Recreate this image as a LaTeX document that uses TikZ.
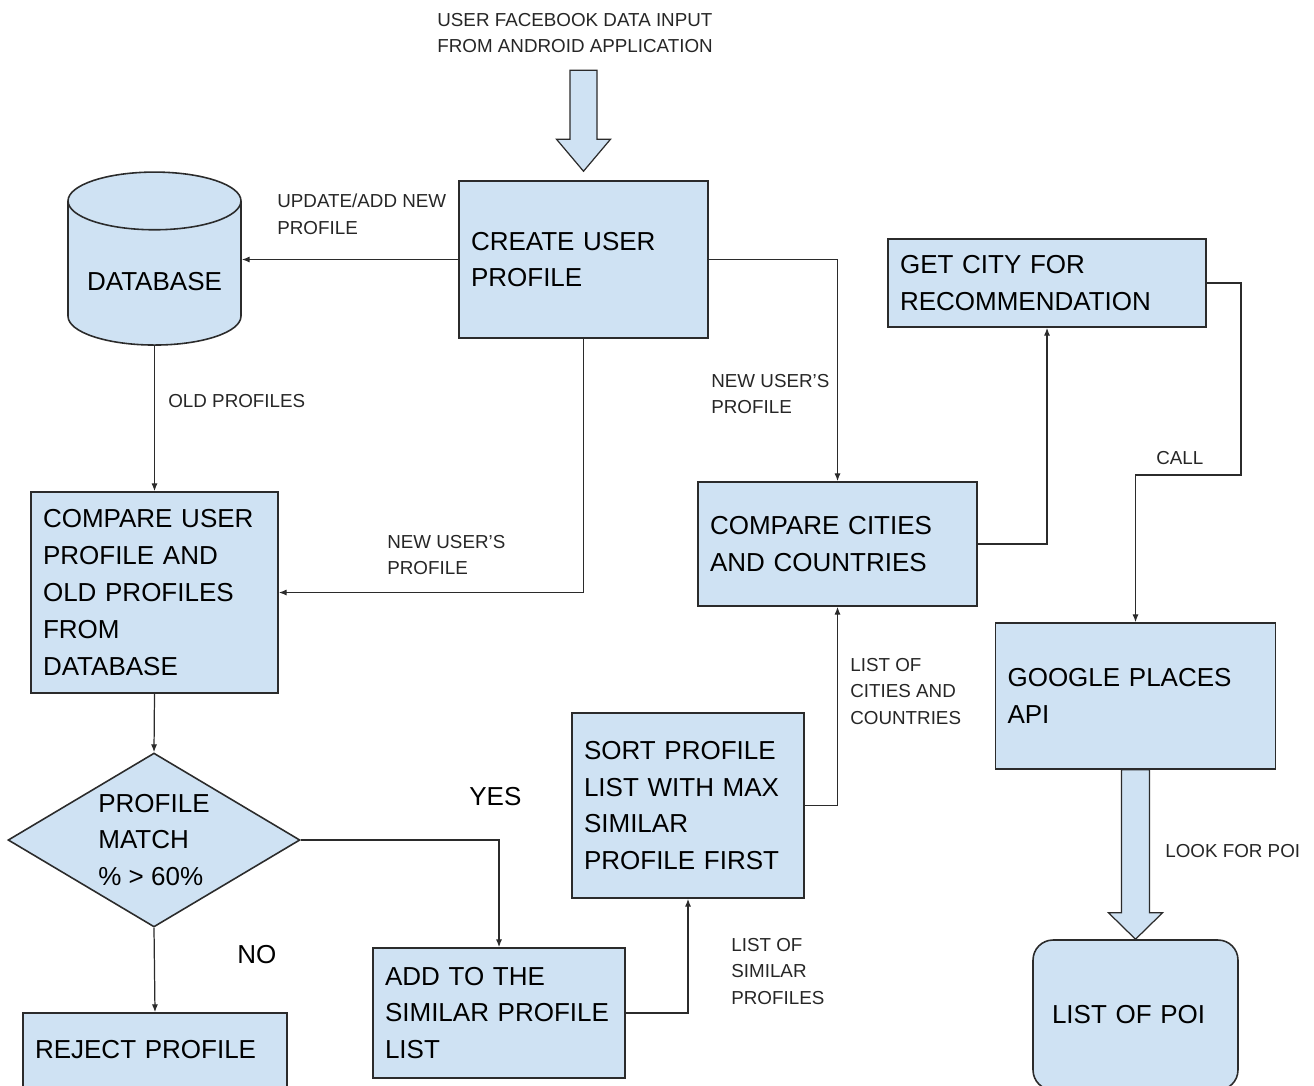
\documentclass[tikz,border=0pt]{standalone}
\usepackage{fontspec}
\setmainfont{Liberation Sans}
\usetikzlibrary{shapes.geometric,arrows.meta,calc}
\definecolor{boxblue}{HTML}{CFE2F3}
\definecolor{linegray}{HTML}{2B2B2B}

\begin{document}
\begin{tikzpicture}[x=0.02cm,y=-0.02cm,
    procbox/.style={rectangle, draw=linegray, line width=0.9pt, fill=boxblue, align=left,
      inner xsep=0.24cm, inner ysep=0pt, font=\fontsize{14.8}{21}\selectfont},
    dbstore/.style={cylinder, shape border rotate=90, aspect=0.35, draw=linegray, line width=0.9pt,
      fill=boxblue, minimum width=3.46cm, minimum height=3.46cm, inner xsep=0.3cm, inner ysep=0.3cm,
      font=\fontsize{14.8}{21}\selectfont},
    decision/.style={diamond, draw=linegray, line width=0.9pt, fill=boxblue, align=left, inner sep=0pt,
      aspect=1.68, minimum width=5.84cm, minimum height=3.48cm, font=\fontsize{14.8}{21}\selectfont},
    flow/.style={draw=linegray, line width=0.7pt, -{Latex[length=4.5pt,width=3.5pt]}},
    bigarrow/.style={draw=linegray, line width=0.7pt, fill=boxblue, line join=miter},
    lbl/.style={font=\fontsize{10.7}{15}\selectfont, align=left, inner sep=0pt, text=black!85},
    biglbl/.style={font=\fontsize{14.8}{21}\selectfont, inner sep=0pt, anchor=west}]
  \useasboundingbox (0,0) rectangle (1314,1085);
  \clip (0,0) rectangle (1314,1085);

  % boxes
  \node[procbox, text width=4.5cm, minimum height=3.14cm] (create) at (583.5,259.5) {CREATE USER\\PROFILE};
  \node[dbstore] (db) at (154.5,281.5) {DATABASE};
  \node[procbox, text width=4.46cm, minimum height=4.02cm] (cmpusr) at (154.5,592.5) {COMPARE USER\\PROFILE AND\\OLD PROFILES\\FROM\\DATABASE};
  \node[decision] (match) at (154,840) {PROFILE\\MATCH\\\% > 60\%};
  \node[procbox, text width=4.8cm, minimum height=1.48cm] (reject) at (155,1050) {REJECT PROFILE};
  \node[procbox, text width=4.56cm, minimum height=2.6cm] (add) at (499,1013) {ADD TO THE\\SIMILAR PROFILE\\LIST};
  \node[procbox, text width=4.16cm, minimum height=3.7cm] (sort) at (688,805.5) {SORT PROFILE\\LIST WITH MAX\\SIMILAR\\PROFILE FIRST};
  \node[procbox, text width=5.1cm, minimum height=2.48cm] (cities) at (837.5,544) {COMPARE CITIES\\AND COUNTRIES};
  \node[procbox, text width=5.88cm, minimum height=1.76cm] (getcity) at (1047,283) {GET CITY FOR\\RECOMMENDATION};
  \node[procbox, text width=5.12cm, minimum height=2.92cm] (gpa) at (1135.5,696) {GOOGLE PLACES\\API};
  \node[procbox, rounded corners=0.4cm, inner xsep=0.38cm, text width=3.34cm, minimum height=3cm] (poi) at (1135.5,1015) {LIST OF POI};

  % labels
  \node[lbl, anchor=north west] (title) at (437,13) {USER FACEBOOK DATA INPUT\\FROM ANDROID APPLICATION};
  \node[lbl, anchor=north west] (lupdate) at (277,194) {UPDATE/ADD NEW\\PROFILE};
  \node[lbl, anchor=west] (lold) at (168,401) {OLD PROFILES};
  \node[lbl, anchor=north west] (lnewa) at (387,535) {NEW USER'S\\PROFILE};
  \node[lbl, anchor=north west] (lnewb) at (711,374) {NEW USER'S\\PROFILE};
  \node[lbl, anchor=west] (lcall) at (1156,458) {CALL};
  \node[lbl, anchor=west] (llook) at (1165,851) {LOOK FOR POI};
  \node[lbl, anchor=north west] (lsimilar) at (731,938) {LIST OF\\SIMILAR\\PROFILES};
  \node[lbl, anchor=north west] (lcities) at (850,658) {LIST OF\\CITIES AND\\COUNTRIES};
  \node[biglbl] (lyes) at (469,797) {YES};
  \node[biglbl] (lno) at (237,955) {NO};

  % block arrows
  \draw[bigarrow] ($(create.north)+(-13.5,-110)$) -- ++(27,0) -- ++(0,69) -- ++(13.5,0)
    -- ++(-27,32) -- ++(-27,-32) -- ++(13.5,0) -- cycle;
  \draw[bigarrow] ($(gpa.south)+(-14,0)$) -- ++(28,0) -- ++(0,143) -- ++(13,0) -- (poi.north)
    -- ($(gpa.south)+(-27,143)$) -- ++(13,0) -- cycle;

  % connectors
  \draw[flow] (create.west) -- (create.west -| db.east);
  \draw[flow] (db.south) -- (cmpusr.north);
  \draw[flow] (create.south) |- (cmpusr.east);
  \draw[flow] (create.east) -| (cities.north);
  \draw[flow] (cities.east) -| (getcity.south);
  \draw[flow] (getcity.east) -| (1241,475) -| (gpa.north);
  \draw[flow] (cmpusr.south) -- (match.north);
  \draw[flow] (match.south) -- (reject.north);
  \draw[flow] (match.east) -| (add.north);
  \draw[flow] (add.east) -| (sort.south);
  \draw[flow] (sort.east) -| (cities.south);
\end{tikzpicture}
\end{document}
